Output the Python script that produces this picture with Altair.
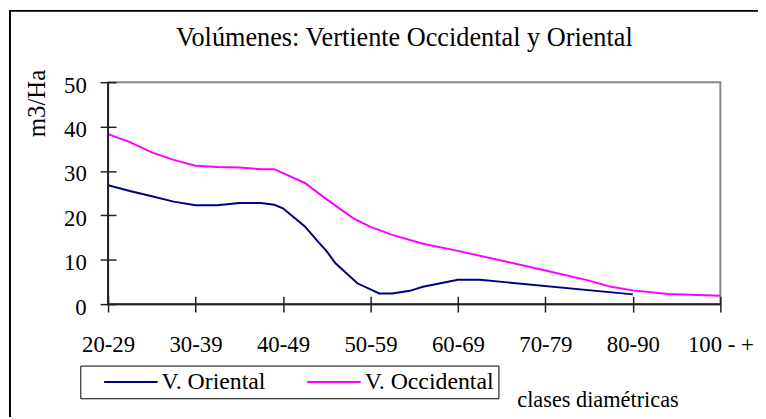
import altair as alt
import pandas as pd

# ---- data ----
categories = ["20-29", "30-39", "40-49", "50-59", "60-69", "70-79", "80-90", "100 - +"]

oriental_pos = [0, 0.25, 0.5, 0.75, 1.0, 1.25, 1.5, 1.75, 1.9, 2.0, 2.25, 2.4, 2.5, 2.6,
                2.85, 3.1, 3.25, 3.45, 3.6, 4.0, 4.25, 6.0]
oriental_val = [26.8, 25.5, 24.3, 23.1, 22.3, 22.3, 22.8, 22.8, 22.4, 21.6, 17.5, 14.1, 11.9, 9.2,
                4.7, 2.4, 2.4, 3.0, 3.9, 5.5, 5.5, 2.2]

occidental_pos = [0, 0.25, 0.5, 0.75, 1.0, 1.25, 1.5, 1.75, 1.9, 2.25, 2.5, 2.8, 3.0, 3.25,
                  3.6, 4.0, 5.0, 5.5, 5.75, 6.0, 6.4, 7.0]
occidental_val = [38.3, 36.5, 34.2, 32.5, 31.2, 30.9, 30.8, 30.4, 30.4, 27.3, 23.6, 19.4, 17.4, 15.6,
                  13.6, 12.0, 7.6, 5.3, 3.9, 3.1, 2.3, 1.9]

series_names = ["V. Oriental", "V. Occidental"]
series_colors = ["#000080", "#FF00FF"]
y_ticks = [0, 10, 20, 30, 40, 50]

FONT = "Liberation Serif"

df = pd.concat([
    pd.DataFrame({"pos": oriental_pos, "val": oriental_val, "serie": series_names[0]}),
    pd.DataFrame({"pos": occidental_pos, "val": occidental_val, "serie": series_names[1]}),
])

label_expr = "[" + ",".join("'" + c + "'" for c in categories) + "][datum.value]"

x_enc = alt.X(
    "pos:Q",
    scale=alt.Scale(domain=[0, len(categories) - 1], nice=False, zero=False),
    axis=alt.Axis(
        values=list(range(len(categories))), labelExpr=label_expr,
        title="clases diamétricas", offset=-8, tickSize=16, tickWidth=1.5, tickColor="#222222",
        domain=False, grid=False, labelPadding=22, labelFont=FONT, labelFontSize=23,
        labelColor="black", labelFlush=False, labelOverlap=False,
        titleFont=FONT, titleFontSize=22.5, titleFontWeight="normal", titleColor="black",
        titleX=494, titleY=111, titleAlign="center", titleBaseline="alphabetic",
    ),
)
y_enc = alt.Y(
    "val:Q",
    scale=alt.Scale(domain=[0, 50], nice=False),
    axis=alt.Axis(
        values=y_ticks, title="m3/Ha", offset=-8, tickSize=16, tickWidth=1.5, tickColor="#222222",
        domain=False, grid=False, labelPadding=14, labelFont=FONT, labelFontSize=23,
        labelColor="black", labelOffset=3, labelFlush=False,
        titleFont=FONT, titleFontSize=25, titleFontWeight="normal", titleColor="black",
        titleX=-72, titleY=21, titleAngle=-90, titleAlign="center", titleBaseline="alphabetic",
    ),
)

lines = alt.Chart(df).mark_line(strokeWidth=2).encode(
    x=x_enc,
    y=y_enc,
    color=alt.Color(
        "serie:N",
        scale=alt.Scale(domain=series_names, range=series_colors),
        legend=alt.Legend(
            title=None, orient="none", legendX=-28, legendY=286, direction="horizontal",
            symbolType="stroke", symbolSize=2916, symbolStrokeWidth=2, symbolOffset=19,
            labelFont=FONT, labelFontSize=24, labelColor="black", labelOffset=3,
            strokeColor="black", fillColor="white", padding=4, columnPadding=22,
            clipHeight=25,
        ),
    ),
    order="pos:Q",
)

axis_lines = pd.DataFrame({"v": [0]})
x_rule = alt.Chart(axis_lines).mark_rule(color="#222222", strokeWidth=2).encode(y=alt.Y("v:Q"))
y_rule = alt.Chart(axis_lines).mark_rule(color="#222222", strokeWidth=2).encode(x=alt.X("v:Q"))

frame = alt.Chart(axis_lines).mark_rect(fillOpacity=0, stroke="black", strokeWidth=2).encode(
    x=alt.value(-99), x2=alt.value(660), y=alt.value(-72), y2=alt.value(420)
)

chart = alt.layer(frame, lines, x_rule, y_rule).properties(
    width=618,
    height=224,
    padding={"left": 101, "top": 73, "right": 38, "bottom": 112},
    autosize=alt.AutoSizeParams(type="none"),
    title=alt.TitleParams(
        text="Volúmenes: Vertiente Occidental y Oriental", font=FONT, fontSize=26.5,
        fontWeight="normal", color="black", anchor="middle", frame="group",
        baseline="alphabetic", dx=-10, offset=0, dy=62.5,
    ),
).configure_view(stroke="#888888", strokeWidth=2)

chart.save("out.html", embed_options={"renderer": "svg", "actions": False})
